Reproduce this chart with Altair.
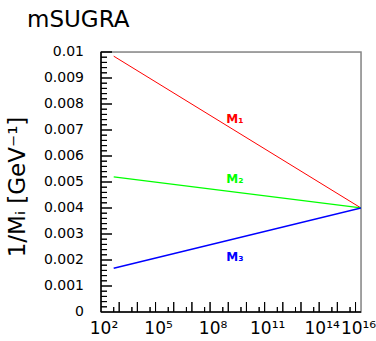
import altair as alt
import pandas as pd
import math

# ---- data ----
series = ["M1", "M2", "M3"]
series_labels = ["M₁", "M₂", "M₃"]
series_colors = ["#ff0000", "#00ff00", "#0000ff"]
series_widths = [1.0, 1.5, 3.0]

q_points = [5e2, 2e16]            # scale Q [GeV]: start, GUT scale
m1_inv = [0.00984, 0.00400]
m2_inv = [0.00520, 0.00400]
m3_inv = [0.00168, 0.00400]

label_q = [2.3e9, 2.3e9, 2.3e9]
label_inv = [0.00744, 0.00513, 0.00213]

x_label_exponents = [2, 5, 8, 11, 14, 16]
x_label_texts = ["10²", "10⁵", "10⁸", "10¹¹", "10¹⁴", "10¹⁶"]
x_major_exponents = list(range(3, 17))
x_minor_exponents = list(range(2, 16))
y_label_values = [0, 0.001, 0.002, 0.003, 0.004, 0.005, 0.006, 0.007, 0.008, 0.009, 0.01]
y_label_texts = ["0", "0.001", "0.002", "0.003", "0.004", "0.005",
                 "0.006", "0.007", "0.008", "0.009", "0.01"]
y_title = "1/Mᵢ [GeV⁻¹]"
chart_title = "mSUGRA"

W, H = 260, 260
X_DOMAIN = [1e2, 2e16]
Y_DOMAIN = [0, 0.01]


# tick lengths in pixels converted to data units (styling, not data)
def y_len(px):
    return (Y_DOMAIN[1] - Y_DOMAIN[0]) * px / H


def x_end(px):
    lo, hi = math.log10(X_DOMAIN[0]), math.log10(X_DOMAIN[1])
    return 10 ** (lo + (hi - lo) * px / W)


# ---- tables ----
lines = pd.DataFrame({
    "series": [s for s in series for _ in q_points],
    "q": q_points * 3,
    "inv": m1_inv + m2_inv + m3_inv,
})
labels_df = pd.DataFrame({"series": series, "label": series_labels,
                          "q": label_q, "inv": label_inv})
xlab_df = pd.DataFrame({"q": [10.0 ** e for e in x_label_exponents], "t": x_label_texts})
ylab_df = pd.DataFrame({"inv": y_label_values, "t": y_label_texts})

xmaj_df = pd.DataFrame({"q": [10.0 ** e for e in x_major_exponents]})
xmin_df = pd.DataFrame({"q": [5 * 10.0 ** e for e in x_minor_exponents]})
ymaj_df = pd.DataFrame({"inv": [i / 1000 for i in range(1, 11)]})
ymin_df = pd.DataFrame({"inv": [i / 5000 for i in range(1, 50) if i % 5 != 0]})

xticks_df = pd.DataFrame({
    "q": list(xmaj_df["q"]) + list(xmin_df["q"]),
    "y0": [0.0] * (len(xmaj_df) + len(xmin_df)),
    "y1": [y_len(10)] * len(xmaj_df) + [y_len(5)] * len(xmin_df),
})
yticks_df = pd.DataFrame({
    "inv": list(ymaj_df["inv"]) + list(ymin_df["inv"]),
    "x0": [X_DOMAIN[0]] * (len(ymaj_df) + len(ymin_df)),
    "x1": [x_end(11)] * len(ymaj_df) + [x_end(6)] * len(ymin_df),
})
title_df = pd.DataFrame({"t": [chart_title]})
ytitle_df = pd.DataFrame({"yt": [y_title]})


def xs():
    return alt.Scale(type="log", domain=X_DOMAIN, nice=False, padding=0)


def ys():
    return alt.Scale(domain=Y_DOMAIN, nice=False, zero=False, padding=0)


def cs():
    return alt.Scale(domain=series, range=series_colors)


# plot frame (gray, top/right) and black left/bottom axis lines, drawn as rects
frame_layer = alt.Chart(title_df).mark_rect(
    fill=None, fillOpacity=0, stroke="#888888", strokeWidth=1.5
).encode(x=alt.value(0), x2=alt.value(W), y=alt.value(0), y2=alt.value(H))
left_line = alt.Chart(title_df).mark_rect(color="black").encode(
    x=alt.value(-0.75), x2=alt.value(0.75), y=alt.value(0), y2=alt.value(H))
bottom_line = alt.Chart(title_df).mark_rect(color="black").encode(
    x=alt.value(0), x2=alt.value(W), y=alt.value(H - 0.75), y2=alt.value(H + 0.75))

lines_layer = alt.Chart(lines).mark_line(clip=True).encode(
    x=alt.X("q:Q", scale=xs(), axis=None),
    y=alt.Y("inv:Q", scale=ys(), axis=None),
    color=alt.Color("series:N", scale=cs(), legend=None),
    strokeWidth=alt.StrokeWidth("series:N",
                                scale=alt.Scale(domain=series, range=series_widths),
                                legend=None),
    detail="series:N",
)

text_layer = alt.Chart(labels_df).mark_text(
    font="DejaVu Sans", fontSize=12, fontWeight="bold", align="center", baseline="middle"
).encode(
    x=alt.X("q:Q", scale=xs(), axis=None),
    y=alt.Y("inv:Q", scale=ys(), axis=None),
    text="label:N",
    color=alt.Color("series:N", scale=cs(), legend=None),
)

# inward ticks drawn as tick marks
xmaj_tick = alt.Chart(xmaj_df).mark_tick(
    orient="vertical", size=10, thickness=1, color="black", opacity=1
).encode(x=alt.X("q:Q", scale=xs(), axis=None), y=alt.value(H - 5))
xmin_tick = alt.Chart(xmin_df).mark_tick(
    orient="vertical", size=5, thickness=1, color="black", opacity=1
).encode(x=alt.X("q:Q", scale=xs(), axis=None), y=alt.value(H - 2.5))
ymaj_tick = alt.Chart(ymaj_df).mark_tick(
    orient="horizontal", size=11, thickness=1, color="black", opacity=1
).encode(y=alt.Y("inv:Q", scale=ys(), axis=None), x=alt.value(5.5))
ymin_tick = alt.Chart(ymin_df).mark_tick(
    orient="horizontal", size=6, thickness=1, color="black", opacity=1
).encode(y=alt.Y("inv:Q", scale=ys(), axis=None), x=alt.value(3))

# the same ticks as thin bars (backup drawing at identical positions)
xticks_bar = alt.Chart(xticks_df).mark_bar(size=1, color="black", opacity=1).encode(
    x=alt.X("q:Q", scale=xs(), axis=None),
    y=alt.Y("y0:Q", scale=ys(), axis=None),
    y2="y1:Q",
)
yticks_bar = alt.Chart(yticks_df).mark_bar(size=1, color="black", opacity=1).encode(
    y=alt.Y("inv:Q", scale=ys(), axis=None),
    x=alt.X("x0:Q", scale=xs(), axis=None),
    x2="x1:Q",
)

ylab_layer = alt.Chart(ylab_df).mark_text(
    font="DejaVu Sans", fontSize=14, align="right", baseline="middle", color="black"
).encode(y=alt.Y("inv:Q", scale=ys(), axis=None), x=alt.value(-17), text="t:N")

xlab_layer = alt.Chart(xlab_df).mark_text(
    font="DejaVu Sans", fontSize=17, align="center", baseline="top", dx=3, color="black"
).encode(x=alt.X("q:Q", scale=xs(), axis=None), y=alt.value(H + 9), text="t:N")

ytitle_layer = alt.Chart(ytitle_df).mark_text(
    font="DejaVu Sans", fontSize=23, align="center", baseline="middle", angle=270,
    color="black"
).encode(x=alt.value(-83), y=alt.value(135), text="yt:N")

title_layer = alt.Chart(title_df).mark_text(
    font="DejaVu Sans", fontSize=23, align="left", baseline="alphabetic", color="black"
).encode(x=alt.value(-74), y=alt.value(-25), text="t:N")

chart = alt.layer(
    frame_layer, lines_layer, text_layer, xticks_bar, yticks_bar,
    xmaj_tick, xmin_tick, ymaj_tick, ymin_tick, left_line, bottom_line,
    ylab_layer, xlab_layer, ytitle_layer, title_layer
).resolve_scale(x="shared", y="shared").properties(
    width=W, height=H,
    autosize=alt.AutoSizeParams(type="none"),
    padding={"left": 101, "top": 52, "right": 15, "bottom": 29},
).configure_view(stroke="#888888", strokeWidth=1.5).configure(background="white")

chart.save("out.html", embed_options={"renderer": "svg", "actions": False})
